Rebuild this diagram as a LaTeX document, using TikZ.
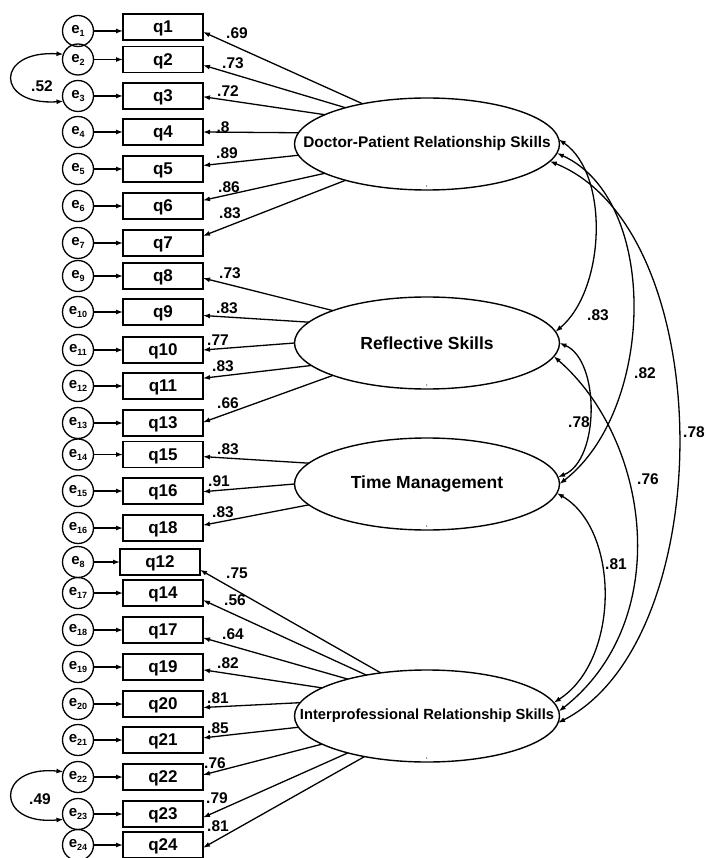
\documentclass[tikz,border=0pt]{standalone}
\usepackage{fontspec}
\setmainfont{Liberation Sans}
\usetikzlibrary{arrows.meta,shapes.geometric}
\newcommand{\errlab}[1]{{\fontsize{15}{15}\selectfont\bfseries e}\raisebox{-3pt}{\fontsize{9}{9}\selectfont\bfseries #1}}
\begin{document}
\begin{tikzpicture}[x=1pt,y=1pt,
  obs/.style={draw, line width=1.4pt, minimum width=80pt, minimum height=26pt, inner sep=0pt, outer sep=0pt, text depth=0pt, font=\fontsize{17}{17}\selectfont\bfseries},
  err/.style={draw, circle, line width=1.3pt, minimum size=31pt, inner sep=0pt, outer sep=0pt},
  lat/.style={draw, ellipse, line width=1.4pt, minimum width=265pt, minimum height=92pt, inner sep=0pt, outer sep=0pt},
  lattxt/.style={inner sep=0pt},
  load/.style={line width=1.3pt, -{Latex[length=7pt,width=5pt]}},
  cov/.style={line width=1.3pt, {Latex[length=7pt,width=5pt]}-{Latex[length=7pt,width=5pt]}},
  coef/.style={inner sep=0pt, font=\fontsize{15.5}{15.5}\selectfont\bfseries},
  one/.style={inner sep=0pt, font=\fontsize{3}{3}\selectfont}
]
\useasboundingbox (0,0) rectangle (705,-858);

% observed variables and error terms
\foreach \q/\e/\y/\bx/\ey in {1/1/27/163/31, 2/2/59.5/163/59.5, 3/3/96/163/96, 4/4/132/163/132,
  5/5/169/163/169, 6/6/206/163/206, 7/7/243/163/243, 8/9/276/163/276, 9/10/312/163/312,
  10/11/350/163/350, 11/12/386/163/386, 13/13/423/163/423, 15/14/454.5/163/454.5,
  16/15/491/163/491, 18/16/528/163/528, 12/8/562/160/562, 14/17/593/163/593,
  17/18/630/163/630, 19/19/667/163/667, 20/20/704/163/704, 21/21/740/163/740,
  22/22/777/163/777, 23/23/814/163/814, 24/24/845/163/845}{
  \node[obs] (q\q) at (\bx,-\y) {q\q};
  \node[err] (e\e) at (78,-\ey) {\errlab{\e}};
  \draw[load] (e\e.east) -- (e\e.east -| q\q.west);
}

% latent variables
\node[lat] (dp) at (427,-144) {};
\node[lattxt, font=\fontsize{15.4}{15.4}\selectfont\bfseries] (dpt) at (dp) {Doctor-Patient Relationship Skills};
\node[lat] (rs) at (427,-343) {};
\node[lattxt, font=\fontsize{17.5}{17.5}\selectfont\bfseries] (rst) at (rs) {Reflective Skills};
\node[lat] (tm) at (427,-484) {};
\node[lattxt, font=\fontsize{17.5}{17.5}\selectfont\bfseries] (tmt) at (tm) {Time Management};
\node[lat] (ip) at (427,-716) {};
\node[lattxt, font=\fontsize{14.7}{14.7}\selectfont\bfseries] (ipt) at (ip) {Interprofessional Relationship Skills};
\node[one] (dp1) at (427,-186) {1};
\node[one] (rs1) at (427,-385) {1};
\node[one] (tm1) at (427,-526) {1};
\node[one] (ip1) at (427,-758) {1};

% loadings: Doctor-Patient
\draw[load] (dp.148) -- (q1.-7);
\draw[load] (dp.156) -- (q2.-8.5);
\draw[load] (dp.164) -- (q3.-1.5);
\draw[load] (dp.175) -- (q4.0);
\draw[load] (dp.185) -- (q5.5.7);
\draw[load] (dp.196) -- (q6.8.5);
\draw[load] (dp.204) -- (q7.10);
\node[coef] at (237,-33) {.69};
\node[coef] at (233,-63) {.73};
\node[coef] at (228,-91) {.72};
\node[coef] at (223,-127) {.8};
\node[coef] at (227,-153) {.89};
\node[coef] at (229,-187) {.86};
\node[coef] at (230,-213) {.83};

% loadings: Reflective
\draw[load] (rs.161) -- (q8.-3);
\draw[load] (rs.170) -- (q9.-5.7);
\draw[load] (rs.180) -- (q10.0);
\draw[load] (rs.191) -- (q11.11);
\draw[load] (rs.199) -- (q13.1.5);
\node[coef] at (230,-273) {.73};
\node[coef] at (227,-308) {.83};
\node[coef] at (218,-340) {.77};
\node[coef] at (223,-366) {.83};
\node[coef] at (228,-403) {.66};

% loadings: Time Management
\draw[load] (tm.170) -- (q15.-3.5);
\draw[load] (tm.180) -- (q16.-1.5);
\draw[load] (tm.190) -- (q18.4);
\node[coef] at (228,-449) {.83};
\node[coef] at (219,-481) {.91};
\node[coef] at (223,-512) {.83};

% loadings: Interprofessional
\draw[load] (ip.137.5) -- (q12.-11);
\draw[load] (ip.146.5) -- (q14.-10);
\draw[load] (ip.155) -- (q17.-11);
\draw[load] (ip.165) -- (q19.-4);
\draw[load] (ip.174) -- (q20.-5.7);
\draw[load] (ip.185.4) -- (q21.3);
\draw[load] (ip.195) -- (q22.3);
\draw[load] (ip.205) -- (q23.-5.7);
\draw[load] (ip.213.5) -- (q24.-4);
\node[coef] at (237,-573) {.75};
\node[coef] at (235,-600) {.56};
\node[coef] at (233,-634) {.64};
\node[coef] at (228,-663) {.82};
\node[coef] at (218,-698) {.81};
\node[coef] at (218,-728) {.85};
\node[coef] at (215,-763) {.76};
\node[coef] at (217,-798) {.79};
\node[coef] at (218,-826) {.81};

% error covariances
\draw[cov] (e2.160) .. controls (-5,-50) and (-5,-106) .. (e3.200);
\node[coef] at (42,-86) {.52};
\draw[cov] (e22.160) .. controls (-5,-765) and (-5,-826) .. (e23.200);
\node[coef] at (40,-799) {.49};

% factor covariances
\draw[cov] (dp.2) .. controls (610,-175) and (605,-290) .. (rs.5);
\draw[cov] (dp.-4) .. controls (660,-200) and (655,-410) .. (tm.0);
\draw[cov] (dp.-8) .. controls (720,-230) and (720,-640) .. (ip.-3);
\draw[cov] (rs.0) .. controls (600,-360) and (600,-460) .. (tm.3);
\draw[cov] (rs.-6) .. controls (650,-440) and (675,-620) .. (ip.2);
\draw[cov] (tm.-4) .. controls (620,-530) and (620,-660) .. (ip.6);
\node[coef] at (598,-315) {.83};
\node[coef] at (645,-373) {.82};
\node[coef] at (694,-432) {.78};
\node[coef] at (579,-422) {.78};
\node[coef] at (648,-479) {.76};
\node[coef] at (616,-564) {.81};
\end{tikzpicture}
\end{document}
